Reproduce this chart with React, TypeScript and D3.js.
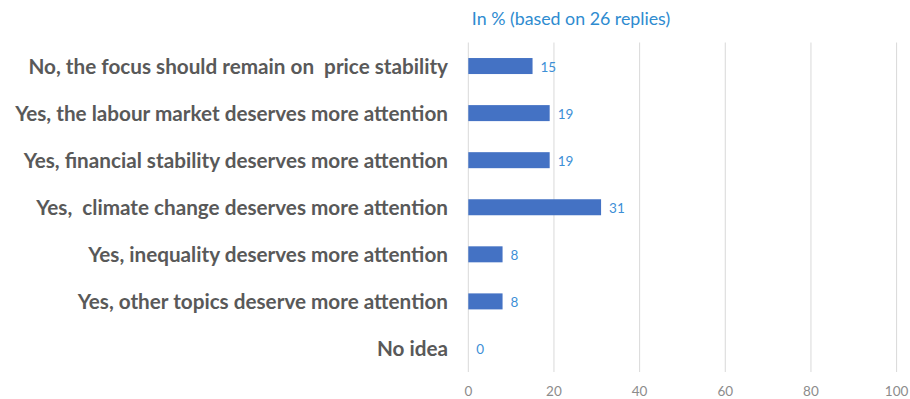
import React from "react";
import * as d3 from "d3";

const categories = [
  "No, the focus should remain on  price stability",
  "Yes, the labour market deserves more attention",
  "Yes, financial stability deserves more attention",
  "Yes,  climate change deserves more attention",
  "Yes, inequality deserves more attention",
  "Yes, other topics deserve more attention",
  "No idea",
];
const values = [15, 19, 19, 31, 8, 8, 0];
const xTicks = [0, 20, 40, 60, 80, 100];
const title = "In % (based on 26 replies)";

const W = 910;
const H = 399;
const left = 468.3;
const right = 896.6;
const top = 42.5;
const bottom = 372;
const FONT = "Lato, 'Open Sans', sans-serif";

export default function App() {
  const x = d3.scaleLinear().domain([0, 100]).range([left, right]);
  const y = d3
    .scaleBand<string>()
    .domain(categories)
    .range([top, bottom])
    .paddingInner(0.66)
    .paddingOuter(0.33);
  const bw = y.bandwidth();
  return (
    <svg
      width={W}
      height={H}
      style={{ position: "absolute", left: 0, top: 0, background: "#fff" }}
    >
      <text
        x={571}
        y={18}
        textAnchor="middle"
        dominantBaseline="central"
        fill="#2E8BD0"
        fontFamily={FONT}
        fontSize={17.8}
      >
        {title}
      </text>
      {xTicks.map((t) => (
        <g key={t}>
          <line
            x1={x(t)}
            x2={x(t)}
            y1={top}
            y2={bottom}
            stroke="#d9d9d9"
            strokeWidth={1}
          />
          <text
            x={x(t)}
            y={391}
            textAnchor="middle"
            dominantBaseline="central"
            fill="#8c8c8c"
            fontFamily={FONT}
            fontSize={13.5}
          >
            {t}
          </text>
        </g>
      ))}
      {categories.map((c, i) => {
        const yc = (y(c) as number) + bw / 2;
        return (
          <g key={c}>
            <text
              x={448}
              y={yc}
              textAnchor="end"
              dominantBaseline="central"
              fill="#595959"
              fontFamily={FONT}
              fontWeight="bold"
              fontSize={20.7}
              style={{ whiteSpace: "pre" }}
            >
              {c}
            </text>
            {values[i] > 0 && (
              <rect
                x={x(0)}
                y={y(c) as number}
                width={x(values[i]) - x(0)}
                height={bw}
                fill="#4472C4"
              />
            )}
            <text
              x={x(values[i]) + 8}
              y={yc + 1}
              dominantBaseline="central"
              fill="#3D8FD6"
              fontFamily={FONT}
              fontSize={13.5}
            >
              {values[i]}
            </text>
          </g>
        );
      })}
    </svg>
  );
}
